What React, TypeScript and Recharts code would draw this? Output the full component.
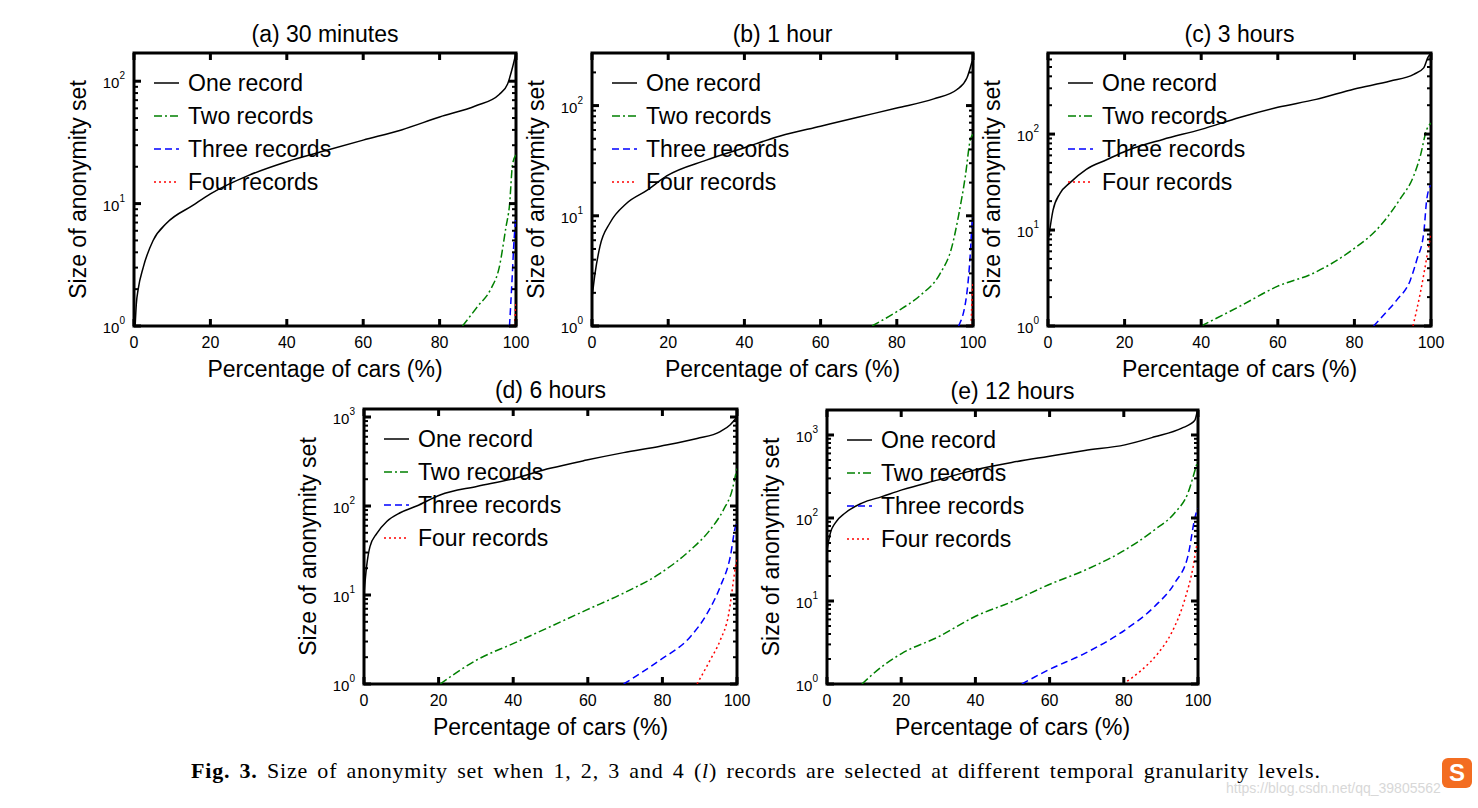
import React from "react";
import { LineChart, Line, XAxis, YAxis, ReferenceArea } from "recharts";

// curves: [percentage of cars, size of anonymity set]
const one30m = [[0.3, 1], [0.6, 1.5], [1.1, 2], [2.4, 3], [5, 5], [8.5, 6.9], [15.5, 9.7], [20, 12], [30, 17], [40, 22], [50, 27], [60, 33], [70, 40], [80, 51], [89.5, 63], [95.6, 78], [97.8, 95], [99.1, 130], [100, 170]];
const two30m = [[86, 1], [90, 1.45], [93.5, 2.03], [95.6, 3], [97.4, 6.5], [98.3, 9.7], [99.1, 21], [100, 25]];
const three30m = [[98.3, 1], [99, 2.5], [99.4, 4.5], [100, 8]];
const four30m = [[99.6, 1], [100, 1.6]];

const one1h = [[0, 1.8], [0.8, 3], [2.1, 5.3], [4.7, 8.6], [9.1, 13], [14.4, 17], [19.6, 23], [30, 32], [40, 41.5], [49.4, 53], [60, 65], [69.5, 78], [80, 95], [89.7, 115], [95.8, 140], [98.4, 178], [100, 270]];
const two1h = [[73.5, 1], [80, 1.35], [86.2, 1.9], [91.4, 3], [94.5, 5.3], [96.2, 10], [98, 23], [99.3, 49], [100, 55]];
const three1h = [[96.2, 1], [98.4, 2], [99.3, 4.6], [99.7, 8], [100, 10]];
const four1h = [[99.5, 1], [99.8, 2], [100, 2.5]];

const one3h = [[0.2, 8.5], [1.3, 16], [3.1, 24], [5.7, 31], [10, 43], [15.3, 54], [20.5, 67], [30, 88], [40, 112], [50, 149], [60, 190], [70, 230], [80, 295], [89.4, 357], [95.5, 420], [98.1, 490], [99.2, 630], [100, 700]];
const two3h = [[40, 1], [50, 1.6], [60, 2.6], [69.3, 3.55], [78.9, 6], [86.7, 11], [91.9, 21], [95.4, 36], [97.2, 59], [98.9, 112], [100, 130]];
const three3h = [[85, 1], [88, 1.35], [91.1, 1.87], [94.6, 3], [96.3, 4.9], [98.1, 9.3], [98.9, 21], [100, 30]];
const four3h = [[95.3, 1], [97.2, 2.2], [98.5, 4.2], [99.4, 6.8], [100, 9]];

const one6h = [[0, 10.4], [0.7, 21], [1.6, 35], [3.4, 49], [6.1, 67], [9.7, 84], [14.1, 100], [20.4, 133], [30.2, 166], [40.1, 203], [49.9, 265], [59.7, 328], [69.6, 398], [79.4, 470], [89.3, 573], [95.5, 685], [98.2, 820], [100, 1000]];
const two6h = [[20.4, 1], [30.2, 1.86], [40.1, 2.86], [49.9, 4.4], [59.7, 6.8], [69.6, 10.5], [79.4, 17.5], [87.5, 32], [92.8, 54], [96.4, 91], [98.7, 151], [100, 270]];
const three6h = [[69.6, 1], [79.4, 1.86], [87.5, 3.4], [92, 6.2], [95.5, 12.4], [98.2, 27], [99.6, 59], [100, 65]];
const four6h = [[89.3, 1], [92.8, 1.86], [95.5, 3.1], [97.8, 6.2], [99.1, 15], [99.6, 21], [100, 25]];

const one12h = [[0, 41], [0.9, 66], [2.2, 87], [4.9, 115], [9.4, 151], [14.8, 181], [20.2, 218], [30, 288], [39.9, 380], [49.8, 467], [59.6, 552], [69.5, 650], [80.3, 760], [88.3, 950], [95.5, 1200], [99.1, 1490], [99.8, 1940]];
const two12h = [[9.4, 1], [14.8, 1.62], [20.2, 2.34], [30, 3.7], [39.9, 6.5], [49.8, 9.8], [59.6, 15.6], [69.5, 23.5], [79.4, 39], [88.3, 72], [93.7, 115], [97.3, 200], [99.5, 420], [100, 500]];
const three12h = [[52.5, 1], [59.6, 1.47], [69.5, 2.34], [80.3, 4.47], [88.3, 8.6], [93.7, 16.4], [97.3, 35], [99.5, 115], [100, 130]];
const four12h = [[79.8, 1], [84.8, 1.47], [89.2, 2.34], [92.8, 4.07], [96.4, 10.3], [98.7, 26], [99.6, 45], [100, 50]];

const SERIES_NAMES = ["One record", "Two records", "Three records", "Four records"];
const X_TICKS = [0, 20, 40, 60, 80, 100];
const DECADES_3 = [1, 10, 100];
const DECADES_4 = [1, 10, 100, 1000];

const STYLES = [
  { color: "#000000", dash: undefined },
  { color: "#008000", dash: "8 3 2 3" },
  { color: "#0000ff", dash: "7 4" },
  { color: "#ff0000", dash: "2 3" },
];

const Y_W = 74;
const M_T = 10;
const M_R = 24;
const X_H = 60;
const FONT = "'Liberation Sans', Arial, sans-serif";

// minor ticks 2..9 of each decade, up to the top of the axis
const logTicks = (decades: number[], max: number) => {
  const out: number[] = [];
  decades.forEach((d) => {
    for (let k = 1; k <= 9; k++) if (d * k <= max) out.push(d * k);
  });
  return out;
};

const toRows = (pts: number[][]) => pts.map(([x, y]) => ({ x, y }));

const panels = [
  { title: "(a) 30 minutes", left: 134, top: 53, w: 382, h: 273, yMax: 170, decades: DECADES_3, curves: [one30m, two30m, three30m, four30m] },
  { title: "(b) 1 hour", left: 592, top: 53, w: 381, h: 273, yMax: 300, decades: DECADES_3, curves: [one1h, two1h, three1h, four1h] },
  { title: "(c) 3 hours", left: 1048, top: 53, w: 383, h: 273, yMax: 700, decades: DECADES_3, curves: [one3h, two3h, three3h, four3h] },
  { title: "(d) 6 hours", left: 364, top: 409, w: 373, h: 275, yMax: 1230, decades: DECADES_4, curves: [one6h, two6h, three6h, four6h] },
  { title: "(e) 12 hours", left: 827, top: 410, w: 371, h: 274, yMax: 2000, decades: DECADES_4, curves: [one12h, two12h, three12h, four12h] },
];

const YTick = (props: any) => {
  const { x, y, payload, plotW } = props;
  const v = payload.value;
  const lg = Math.log10(v);
  const exp = Math.round(lg);
  const major = Math.abs(lg - exp) < 1e-6;
  const len = major ? 7 : 4;
  const sw = major ? 3 : 2;
  return (
    <g>
      <line x1={x} x2={x + len} y1={y} y2={y} stroke="#000" strokeWidth={sw} />
      <line x1={x + plotW - len} x2={x + plotW} y1={y} y2={y} stroke="#000" strokeWidth={sw} />
      {major && (
        <text x={x - 9} y={y + 7} textAnchor="end" fontSize={15} fill="#000">
          10<tspan dy={-9} fontSize={10}>{exp}</tspan>
        </text>
      )}
    </g>
  );
};

const XTick = (props: any) => {
  const { x, y, payload, plotH } = props;
  return (
    <g>
      <line x1={x} x2={x} y1={y} y2={y - 7} stroke="#000" strokeWidth={3} />
      <line x1={x} x2={x} y1={y - plotH} y2={y - plotH + 7} stroke="#000" strokeWidth={3} />
      <text x={x} y={y + 22} textAnchor="middle" fontSize={16} fill="#000">{payload.value}</text>
    </g>
  );
};

function Panel({ p }: { p: any }) {
  const W = Y_W + p.w + M_R;
  const H = M_T + p.h + X_H;
  return (
    <div style={{ position: "absolute", left: p.left - Y_W, top: p.top - M_T, width: W, height: H }}>
      <div style={{ position: "absolute", left: Y_W, top: M_T - 33, width: p.w, textAlign: "center", fontSize: 23, lineHeight: "28px", color: "#000" }}>
        {p.title}
      </div>
      <LineChart width={W} height={H} margin={{ top: M_T, right: M_R, left: 0, bottom: 0 }}>
        <XAxis
          type="number"
          dataKey="x"
          domain={[0, 100]}
          ticks={X_TICKS}
          interval={0}
          allowDataOverflow
          axisLine={false}
          tickLine={false}
          tickSize={0}
          tickMargin={0}
          height={X_H}
          tick={(tp: any) => <XTick {...tp} plotH={p.h} />}
          label={{ value: "Percentage of cars (%)", position: "insideBottom", offset: 9, fontSize: 23, fill: "#000" }}
        />
        <YAxis
          type="number"
          scale="log"
          domain={[1, p.yMax]}
          ticks={logTicks(p.decades, p.yMax)}
          interval={0}
          allowDataOverflow
          axisLine={false}
          tickLine={false}
          tickSize={0}
          tickMargin={0}
          width={Y_W}
          tick={(tp: any) => <YTick {...tp} plotW={p.w} />}
          label={{ value: "Size of anonymity set", angle: -90, position: "insideLeft", offset: 18, fontSize: 23, fill: "#000", style: { textAnchor: "middle" } }}
        />
        {p.curves.map((c: number[][], i: number) => (
          <Line
            key={SERIES_NAMES[i]}
            name={SERIES_NAMES[i]}
            data={toRows(c)}
            dataKey="y"
            type="monotone"
            stroke={STYLES[i].color}
            strokeWidth={1.5}
            strokeDasharray={STYLES[i].dash}
            dot={false}
            activeDot={false}
            isAnimationActive={false}
          />
        ))}
        <ReferenceArea x1={0} x2={100} y1={1} y2={p.yMax} fill="none" stroke="#000" strokeWidth={3} ifOverflow="visible" />
      </LineChart>
      <svg style={{ position: "absolute", left: Y_W + 20, top: M_T + 14, overflow: "visible" }} width={240} height={140}>
        {SERIES_NAMES.map((n, i) => (
          <g key={n}>
            <line x1={0} x2={25} y1={16 + i * 33} y2={16 + i * 33} stroke={STYLES[i].color} strokeWidth={1.5} strokeDasharray={STYLES[i].dash} />
            <text x={34} y={24 + i * 33} fontSize={23} fill="#000">{n}</text>
          </g>
        ))}
      </svg>
    </div>
  );
}

export default function App() {
  return (
    <div style={{ position: "absolute", left: 0, top: 0, width: 1478, height: 808, background: "#fff", fontFamily: FONT, overflow: "hidden" }}>
      {panels.map((p) => (
        <Panel key={p.title} p={p} />
      ))}
      <div style={{ position: "absolute", left: 191, top: 758, fontFamily: "'Liberation Serif', 'Times New Roman', serif", fontSize: 22, lineHeight: "26px", letterSpacing: 0.8, wordSpacing: 3, color: "#000", whiteSpace: "nowrap" }}>
        <b>Fig. 3.</b> Size of anonymity set when 1, 2, 3 and 4 (<i>l</i>) records are selected at different temporal granularity levels.
      </div>
      <div style={{ position: "absolute", left: 1226, top: 780, fontSize: 14, color: "#d8d8d8", whiteSpace: "nowrap" }}>
        https://blog.csdn.net/qq_39805562
      </div>
      <div style={{ position: "absolute", left: 1442, top: 758, width: 30, height: 30, borderRadius: 6, background: "#f36d21", color: "#fff", fontWeight: "bold", fontSize: 24, lineHeight: "30px", textAlign: "center" }}>
        S
      </div>
    </div>
  );
}
